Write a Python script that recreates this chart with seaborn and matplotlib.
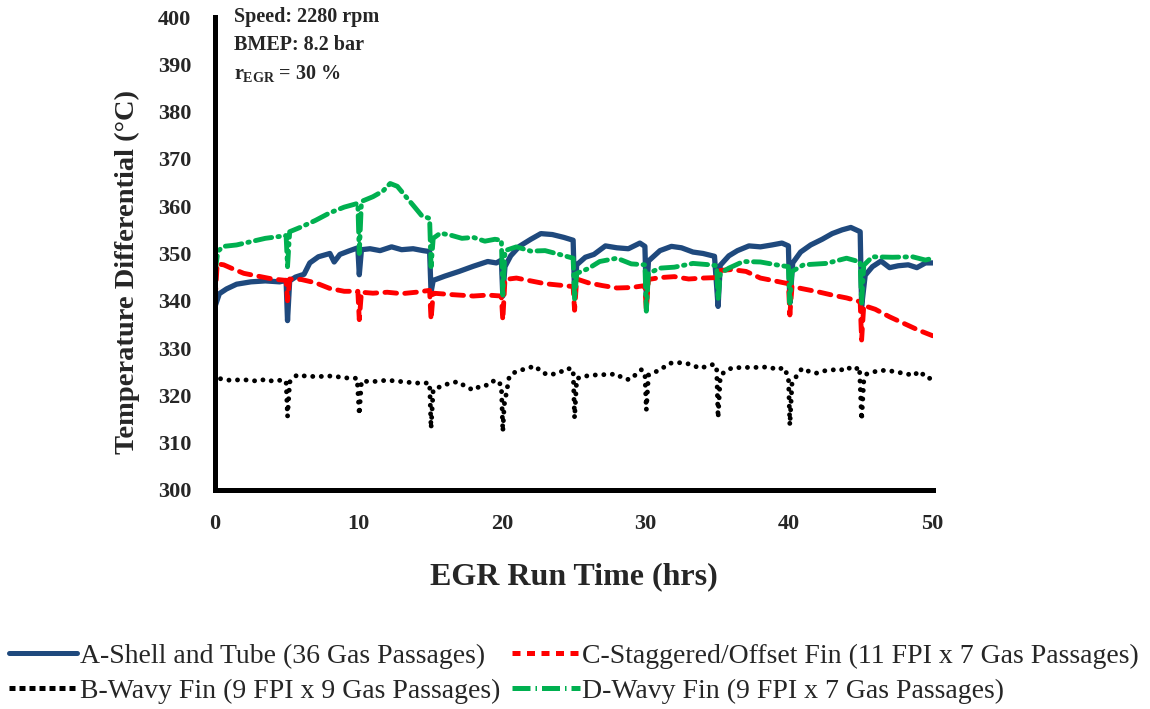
import matplotlib
matplotlib.use("Agg")
import matplotlib.pyplot as plt
from matplotlib.lines import Line2D
import seaborn as sns

# Exhaust gas temperature drop across each EGR cooler over the 50 h run
time_a = [0.0, 0.3, 0.8, 1.5, 2.5, 3.5, 4.5, 4.95, 5.05, 5.2, 5.6, 6.2, 6.6, 7.2, 8.0, 8.3, 8.7,
          9.3, 9.95, 10.05, 10.2, 10.8, 11.5, 12.3, 13.0, 13.8, 14.5, 14.95, 15.05, 15.2, 16.0,
          17.0, 18.0, 19.0, 19.6, 19.95, 20.05, 20.2, 20.6, 21.2, 22.0, 22.7, 23.5, 24.3, 24.95,
          25.05, 25.2, 25.8, 26.4, 27.2, 28.0, 28.8, 29.6, 29.95, 30.05, 30.2, 31.0, 31.8, 32.5,
          33.3, 34.0, 34.8, 35.05, 35.2, 35.8, 36.4, 37.2, 38.0, 38.8, 39.5, 39.95, 40.05, 40.25,
          40.8, 41.5, 42.3, 43.0, 43.7, 44.3, 44.95, 45.05, 45.3, 45.8, 46.4, 47.0, 47.6, 48.3,
          48.9, 49.5, 50.0]
temp_a = [338.8, 341.5, 342.5, 343.5, 344.0, 344.2, 344.0, 344.3, 335.8, 344.2, 345.0, 345.6,
          348.0, 349.3, 350.0, 348.2, 349.8, 350.5, 351.2, 345.5, 350.8, 351.0, 350.6, 351.4,
          350.8, 351.0, 350.6, 350.4, 341.8, 344.3, 345.2, 346.2, 347.3, 348.3, 348.0, 348.6,
          341.0, 347.2, 349.5, 351.5, 353.0, 354.2, 354.0, 353.4, 352.8, 341.6, 347.6, 349.2,
          349.8, 351.6, 351.2, 351.0, 352.2, 351.5, 340.8, 348.4, 350.6, 351.5, 351.2, 350.3,
          350.0, 349.4, 338.8, 347.5, 349.5, 350.6, 351.6, 351.4, 351.8, 352.2, 351.6, 339.5,
          348.0, 350.3, 351.8, 353.0, 354.2, 355.0, 355.5, 354.6, 338.8, 345.4, 347.2, 348.4,
          347.0, 347.4, 347.6, 347.0, 348.0, 348.0]

time_b = [0.0, 0.2, 1.0, 2.0, 3.0, 3.5, 4.0, 4.6, 4.95, 5.05, 5.2, 5.7, 6.5, 7.5, 8.2, 9.0, 9.9,
          10.05, 10.2, 11.0, 12.0, 13.0, 14.0, 14.95, 15.05, 15.2, 15.5, 16.2, 16.9, 17.5, 18.0,
          18.5, 19.1, 19.5, 19.95, 20.05, 20.15, 20.3, 20.5, 20.9, 21.6, 22.3, 22.8, 23.3, 24.0,
          24.5, 24.95, 25.05, 25.2, 25.6, 26.5, 27.3, 28.0, 28.4, 28.9, 29.7, 29.95, 30.05, 30.2,
          30.5, 31.0, 31.7, 32.4, 33.1, 33.8, 34.3, 34.8, 34.95, 35.05, 35.2, 35.4, 36.0, 36.8,
          37.6, 38.6, 39.2, 39.6, 39.95, 40.05, 40.2, 40.5, 40.9, 41.5, 41.9, 42.5, 43.1, 43.6,
          44.0, 44.5, 44.9, 45.05, 45.2, 45.4, 46.3, 47.0, 47.7, 48.2, 48.6, 49.1, 49.6, 50.0]
temp_b = [322.5, 323.6, 323.2, 323.3, 323.0, 323.4, 323.0, 323.2, 323.0, 315.5, 322.8, 324.3,
          324.0, 324.0, 324.1, 323.7, 323.6, 315.9, 323.0, 322.9, 323.2, 322.9, 322.6, 322.6,
          313.0, 321.2, 321.6, 322.4, 322.9, 321.8, 321.1, 322.0, 322.2, 323.3, 322.2, 312.3,
          318.0, 320.5, 324.0, 324.9, 325.6, 326.2, 324.8, 324.3, 324.8, 325.7, 325.5, 315.2,
          323.5, 324.0, 324.3, 324.4, 324.5, 323.6, 323.3, 325.4, 324.8, 316.9, 324.3, 324.7,
          325.4, 326.8, 326.9, 326.6, 325.7, 326.2, 326.6, 325.6, 315.2, 323.8, 324.7, 325.8,
          325.9, 325.9, 326.0, 325.4, 325.9, 324.0, 313.7, 322.5, 324.0, 325.7, 324.9, 324.7,
          325.2, 325.4, 325.3, 326.0, 325.3, 326.0, 314.8, 323.0, 324.5, 325.3, 325.2, 324.8,
          324.6, 324.1, 325.1, 323.6, 323.6]

time_c = [0.0, 0.15, 0.6, 1.2, 2.0, 3.0, 4.0, 4.95, 5.05, 5.2, 6.0, 7.0, 8.0, 9.0, 9.95, 10.05,
          10.2, 11.0, 12.0, 13.0, 14.0, 14.95, 15.05, 15.2, 16.5, 18.0, 19.0, 19.95, 20.05, 20.2,
          21.0, 22.0, 23.0, 24.0, 24.95, 25.05, 25.2, 26.0, 27.0, 28.0, 29.0, 29.95, 30.05, 30.2,
          31.0, 32.0, 33.0, 34.0, 34.95, 35.2, 36.0, 37.0, 38.0, 39.0, 39.95, 40.05, 40.2, 41.0,
          42.0, 43.0, 44.0, 44.95, 45.05, 45.2, 46.0, 47.0, 48.0, 49.0, 50.0]
temp_c = [340.2, 347.8, 347.6, 346.8, 345.8, 345.2, 344.6, 344.3, 340.0, 344.6, 344.5, 343.8,
          342.6, 342.0, 342.0, 336.0, 341.8, 341.6, 341.8, 341.5, 341.8, 342.2, 336.0, 341.6,
          341.3, 341.0, 341.2, 341.0, 335.9, 344.5, 344.8, 344.2, 343.6, 343.3, 343.0, 338.0,
          344.6, 343.8, 343.2, 342.7, 342.8, 343.2, 338.0, 344.5, 344.9, 345.1, 344.6, 344.8,
          344.9, 346.4, 346.6, 346.2, 344.8, 344.2, 343.6, 337.0, 343.0, 342.5, 341.9, 341.2,
          340.6, 339.8, 331.7, 339.0, 338.2, 336.6, 335.2, 333.8, 332.6]

time_d = [0.0, 0.2, 0.6, 1.5, 2.5, 3.5, 4.5, 4.95, 5.05, 5.2, 6.0, 7.0, 8.0, 9.0, 9.95, 10.05,
          10.2, 11.0, 11.7, 12.2, 12.7, 13.3, 13.8, 14.4, 14.95, 15.05, 15.2, 15.7, 16.5, 17.2,
          18.0, 18.8, 19.5, 19.95, 20.05, 20.2, 21.0, 22.0, 23.0, 24.0, 24.95, 25.05, 25.2, 26.0,
          26.8, 28.0, 29.0, 29.95, 30.05, 30.2, 31.0, 32.0, 33.3, 34.5, 34.95, 35.05, 35.2, 35.8,
          36.8, 38.0, 39.1, 39.95, 40.05, 40.2, 41.0, 42.6, 44.0, 44.95, 45.05, 45.2, 45.8, 47.2,
          48.6, 49.5, 50.0]
temp_d = [346.0, 350.5, 351.5, 351.8, 352.5, 353.2, 353.6, 353.8, 347.2, 354.6, 355.6, 357.0,
          358.6, 359.8, 360.6, 350.0, 361.0, 362.0, 363.2, 364.8, 364.2, 362.0, 360.2, 358.0,
          357.4, 347.2, 353.2, 354.3, 353.8, 353.2, 353.4, 352.6, 353.0, 352.8, 341.2, 350.6,
          351.4, 350.5, 350.6, 349.8, 349.0, 340.2, 345.8, 346.8, 348.3, 349.0, 347.8, 347.6,
          337.8, 345.8, 346.9, 347.1, 347.9, 347.6, 347.4, 340.2, 345.8, 346.9, 348.3, 348.2,
          347.6, 347.2, 339.5, 346.2, 347.6, 347.9, 349.0, 348.2, 339.5, 347.5, 349.3, 349.2,
          349.3, 348.6, 349.0]

labels = ["A-Shell and Tube (36 Gas Passages)",
          "B-Wavy Fin (9 FPI x 9 Gas Passages)",
          "C-Staggered/Offset Fin (11 FPI x 7 Gas Passages)",
          "D-Wavy Fin (9 FPI x 7 Gas Passages)"]
x_ticks = [0, 10, 20, 30, 40, 50]
y_ticks = [300, 310, 320, 330, 340, 350, 360, 370, 380, 390, 400]

blue, black, red, green = "#1f497d", "#000000", "#ff0000", "#00b050"

sns.set_theme(style="white")
plt.rcParams["font.family"] = ["Liberation Serif", "DejaVu Serif"]
plt.rcParams["mathtext.fontset"] = "custom"
plt.rcParams["mathtext.rm"] = "Liberation Serif:bold"
plt.rcParams["mathtext.it"] = "Liberation Serif:bold"
plt.rcParams["mathtext.bf"] = "Liberation Serif:bold"

fig = plt.figure(figsize=(11.5, 7.09), dpi=100)
ax = fig.add_axes([0.187, 0.309, 0.624, 0.667])

lw = 3.5
sns.lineplot(x=time_b, y=temp_b, ax=ax, color=black, lw=lw, estimator=None, sort=False,
             linestyle=(0, (0.01, 1.75)), dash_capstyle="round")
sns.lineplot(x=time_a, y=temp_a, ax=ax, color=blue, lw=lw + 0.3, estimator=None, sort=False)
sns.lineplot(x=time_c, y=temp_c, ax=ax, color=red, lw=lw, estimator=None, sort=False,
             linestyle=(0, (2.4, 1.7)), dash_capstyle="round")
sns.lineplot(x=time_d, y=temp_d, ax=ax, color=green, lw=lw, estimator=None, sort=False,
             linestyle=(0, (3.4, 1.3, 0.3, 1.3)), dash_capstyle="round")

ax.set_xlim(0, 50)
ax.set_ylim(300, 400)
ax.set_xticks(x_ticks)
ax.set_yticks(y_ticks)
ax.set_xticklabels([str(v) for v in x_ticks], fontsize=16, fontweight="bold")
ax.set_yticklabels([str(v) for v in y_ticks], fontsize=16, fontweight="bold")
ax.tick_params(axis="both", direction="out", length=5, width=3.5, color="black", pad=12)
for side in ["top", "right"]:
    ax.spines[side].set_visible(False)
for side in ["left", "bottom"]:
    ax.spines[side].set_linewidth(3.6)
    ax.spines[side].set_color("black")
ax.grid(False)

ax.set_xlabel("EGR Run Time (hrs)", fontsize=23, fontweight="bold")
ax.xaxis.set_label_coords(0.5, -0.153)
ax.set_ylabel("Temperature Differential (\u00b0C)", fontsize=20.5, fontweight="bold")
ax.yaxis.set_label_coords(-0.104, 0.46)

ax.text(0.026, 1.022, "Speed: 2280 rpm", transform=ax.transAxes, fontsize=14.5,
        fontweight="bold", va="top", ha="left")
ax.text(0.026, 0.963, "BMEP: 8.2 bar", transform=ax.transAxes, fontsize=14.5,
        fontweight="bold", va="top", ha="left")
ax.text(0.026, 0.903, r"$r_{EGR}$ = 30 %", transform=ax.transAxes, fontsize=14.5,
        fontweight="bold", va="top", ha="left")

handles = [
    Line2D([], [], color=blue, lw=3.6),
    Line2D([], [], color=black, lw=3.6, linestyle=(0, (1.2, 0.8))),
    Line2D([], [], color=red, lw=3.6, linestyle=(0, (1.6, 1.3))),
    Line2D([], [], color=green, lw=3.6, linestyle=(0, (3.6, 1.0, 0.3, 1.0))),
]
fig.legend(handles, labels, loc="upper left", bbox_to_anchor=(0.008, 0.093), ncol=2,
           frameon=False, prop={"family": "Liberation Serif", "size": 20},
           handlelength=2.45, handletextpad=0.1, columnspacing=0.4, labelspacing=0.36,
           borderpad=0.0, borderaxespad=0.0)

fig.savefig("out.png", dpi=100)
